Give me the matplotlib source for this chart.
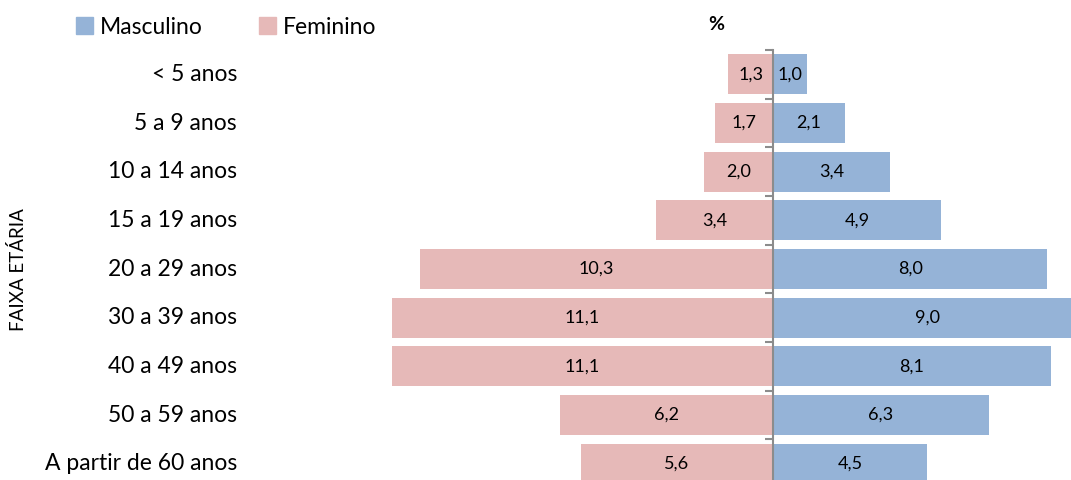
import numpy as np
import matplotlib.pyplot as plt
from matplotlib.patches import Patch
from matplotlib.ticker import FixedLocator

plt.rcParams["font.family"] = ["Lato", "DejaVu Sans"]

faixas = ["< 5 anos", "5 a 9 anos", "10 a 14 anos", "15 a 19 anos", "20 a 29 anos",
          "30 a 39 anos", "40 a 49 anos", "50 a 59 anos", "A partir de 60 anos"]
masculino = [1.0, 2.1, 3.4, 4.9, 8.0, 9.0, 8.1, 6.3, 4.5]
feminino = [1.3, 1.7, 2.0, 3.4, 10.3, 11.1, 11.1, 6.2, 5.6]

cor_m = "#95B3D7"
cor_f = "#E6B9B8"

W, H = 1071, 480
fig = plt.figure(figsize=(W / 100, H / 100), dpi=100)
# eixo do topo (y=50px) ate a base
ax = fig.add_axes([0, 0, 1, 430 / H])

y = np.arange(len(faixas))
m = np.array(masculino)
f = np.array(feminino)

ax.barh(y, m, height=0.82, color=cor_m)
ax.barh(y, -f, height=0.82, color=cor_f)

for yi, v in zip(y, m):
    ax.text(v / 2, yi, f"{v:.1f}".replace(".", ","), ha="center", va="center", fontsize=13)
for yi, v in zip(y, f):
    ax.text(-v / 2, yi, f"{v:.1f}".replace(".", ","), ha="center", va="center", fontsize=13)

px = 34.3  # pixels por ponto percentual
ax.set_xlim(-773 / px, (W - 773) / px)
ax.set_ylim((H - 75) / 48.6, -0.5)

for s in ["top", "right", "bottom"]:
    ax.spines[s].set_visible(False)
ax.spines["left"].set_position(("data", 0))
ax.spines["left"].set_color("#8c8c8c")
ax.spines["left"].set_linewidth(1.5)
ax.set_xticks([])
ax.set_yticks([])
ax.yaxis.set_minor_locator(FixedLocator(np.arange(len(faixas) + 1) - 0.5))
ax.tick_params(axis="y", which="minor", length=6, width=1.5, color="#8c8c8c", direction="out")

for yi, nome in zip(y, faixas):
    ax.text(237 / W, yi, nome, transform=ax.get_yaxis_transform(), ha="right", va="center", fontsize=16.5)

fig.text(18 / W, 1 - 270 / H, "FAIXA ETÁRIA", rotation=90, ha="center", va="center", fontsize=13.5)
fig.text(716 / W, 1 - 25 / H, "%", ha="center", va="center", fontsize=14, fontweight="bold")

handles = [Patch(color=cor_m, label="Masculino"), Patch(color=cor_f, label="Feminino")]
fig.legend(handles=handles, loc="center left", bbox_to_anchor=(55 / W, 1 - 27 / H), ncol=2,
           frameon=False, fontsize=16.5, handlelength=0.75, handleheight=0.75, handletextpad=0.3,
           columnspacing=2.45)

fig.savefig("out.png", dpi=100)
